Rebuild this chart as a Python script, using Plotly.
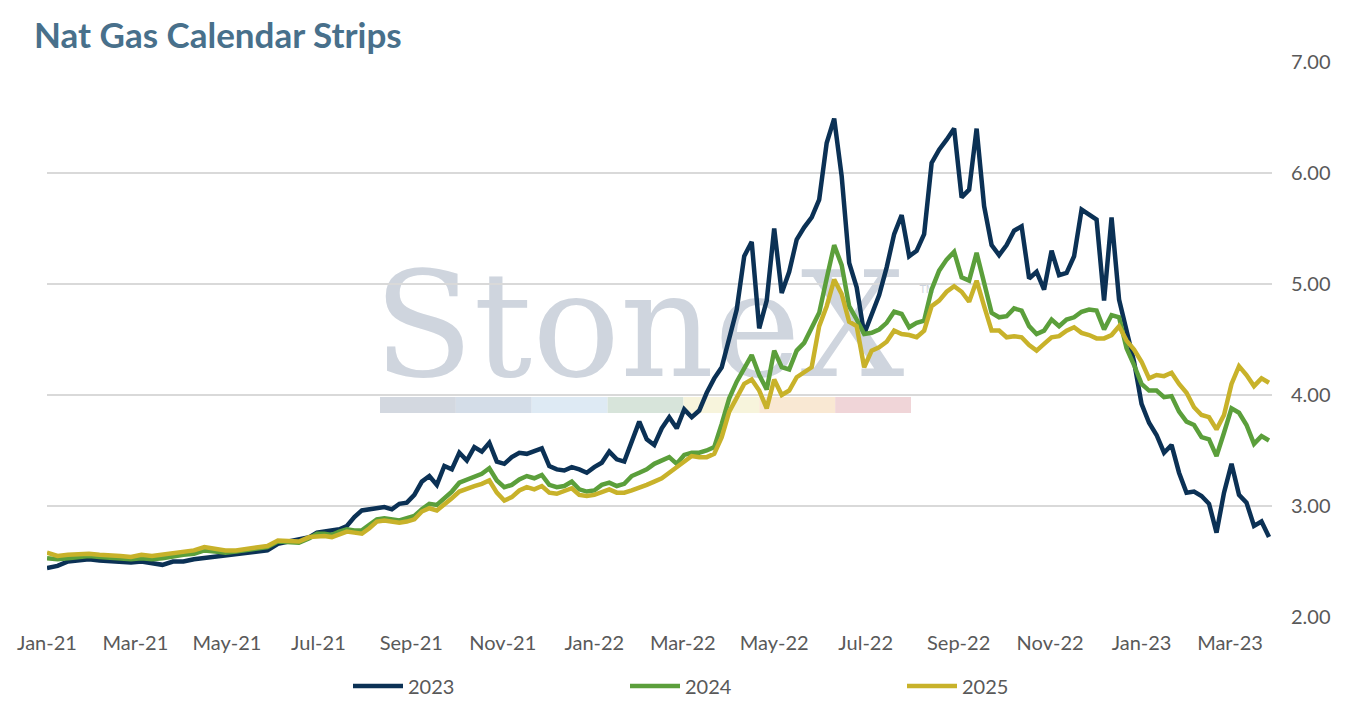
import pandas as pd
import plotly.graph_objects as go

# ---------------- data ----------------
dates_weekly = pd.date_range("2021-01-01", periods=26, freq="7D")
dates_5d = pd.date_range("2021-06-30", periods=128, freq="5D")
dates = list(dates_weekly) + list(dates_5d)

strip_2023 = [
    2.44, 2.46, 2.50, 2.51, 2.52, 2.51, 2.50, 2.49, 2.49, 2.50, 2.49, 2.47, 2.50,
    2.50, 2.52, 2.53, 2.55, 2.56, 2.56, 2.57, 2.58, 2.60, 2.66, 2.68, 2.70, 2.72,
    2.76, 2.77, 2.77, 2.79, 2.82, 2.90, 2.96, 2.97, 2.98, 2.99, 2.97, 3.02, 3.03,
    3.10, 3.22, 3.27, 3.19, 3.36, 3.33, 3.48, 3.41, 3.53, 3.49, 3.57, 3.40, 3.38,
    3.44, 3.48, 3.47, 3.50, 3.52, 3.36, 3.33, 3.32, 3.35, 3.33, 3.30, 3.35, 3.39,
    3.49, 3.42, 3.40, 3.58, 3.76, 3.60, 3.55, 3.70, 3.80, 3.70, 3.87, 3.80, 3.86,
    4.02, 4.15, 4.25, 4.52, 4.77, 5.25, 5.38, 4.60, 4.85, 5.50, 4.92, 5.11, 5.40,
    5.51, 5.60, 5.76, 6.27, 6.49, 5.97, 5.19, 4.97, 4.55, 4.72, 4.90, 5.15, 5.45,
    5.62, 5.25, 5.30, 5.45, 6.09, 6.21, 6.30, 6.40, 5.78, 5.85, 6.40, 5.70, 5.35,
    5.26, 5.35, 5.48, 5.52, 5.05, 5.11, 4.95, 5.30, 5.08, 5.10, 5.25, 5.67, 5.63,
    5.58, 4.85, 5.60, 4.86, 4.60, 4.30, 3.92, 3.75, 3.64, 3.48, 3.55, 3.30, 3.12,
    3.13, 3.09, 3.02, 2.76, 3.12, 3.38, 3.10, 3.03, 2.82, 2.86, 2.72,
]

strip_2024 = [
    2.53, 2.52, 2.53, 2.54, 2.55, 2.54, 2.53, 2.52, 2.52, 2.53, 2.52, 2.53, 2.55,
    2.56, 2.57, 2.60, 2.59, 2.58, 2.59, 2.60, 2.61, 2.63, 2.68, 2.67, 2.67, 2.71,
    2.75, 2.75, 2.74, 2.77, 2.79, 2.78, 2.78, 2.83, 2.88, 2.89, 2.88, 2.87, 2.89,
    2.91, 2.97, 3.02, 3.01, 3.07, 3.13, 3.21, 3.24, 3.26, 3.29, 3.34, 3.23, 3.17,
    3.19, 3.24, 3.27, 3.25, 3.28, 3.19, 3.17, 3.18, 3.22, 3.15, 3.13, 3.14, 3.19,
    3.21, 3.18, 3.20, 3.27, 3.30, 3.33, 3.38, 3.41, 3.44, 3.38, 3.46, 3.48, 3.48,
    3.50, 3.53, 3.74, 3.97, 4.12, 4.25, 4.36, 4.18, 4.05, 4.40, 4.25, 4.23, 4.40,
    4.47, 4.60, 4.74, 5.05, 5.35, 5.17, 4.80, 4.68, 4.55, 4.56, 4.59, 4.65, 4.75,
    4.73, 4.61, 4.65, 4.67, 4.95, 5.12, 5.22, 5.29, 5.06, 5.03, 5.28, 5.00, 4.74,
    4.70, 4.71, 4.78, 4.76, 4.62, 4.55, 4.58, 4.68, 4.62, 4.68, 4.70, 4.75, 4.77,
    4.76, 4.59, 4.72, 4.70, 4.42, 4.27, 4.10, 4.04, 4.04, 3.98, 3.99, 3.85, 3.76,
    3.73, 3.62, 3.60, 3.45, 3.66, 3.88, 3.84, 3.73, 3.56, 3.63, 3.59,
]

strip_2025 = [
    2.58, 2.55, 2.56, 2.57, 2.57, 2.56, 2.56, 2.55, 2.54, 2.56, 2.55, 2.56, 2.57,
    2.59, 2.60, 2.63, 2.61, 2.60, 2.60, 2.61, 2.62, 2.64, 2.69, 2.68, 2.68, 2.72,
    2.73, 2.73, 2.72, 2.75, 2.77, 2.76, 2.75, 2.80, 2.86, 2.87, 2.86, 2.85, 2.86,
    2.88, 2.95, 2.98, 2.96, 3.01, 3.07, 3.13, 3.16, 3.18, 3.20, 3.23, 3.12, 3.05,
    3.08, 3.14, 3.17, 3.15, 3.18, 3.12, 3.11, 3.13, 3.16, 3.10, 3.09, 3.10, 3.13,
    3.15, 3.12, 3.12, 3.14, 3.16, 3.19, 3.22, 3.25, 3.30, 3.35, 3.41, 3.45, 3.44,
    3.44, 3.47, 3.62, 3.85, 3.98, 4.10, 4.14, 4.04, 3.88, 4.14, 4.00, 4.04, 4.16,
    4.20, 4.25, 4.62, 4.80, 5.04, 4.91, 4.66, 4.62, 4.25, 4.40, 4.43, 4.48, 4.58,
    4.55, 4.54, 4.52, 4.58, 4.80, 4.85, 4.93, 4.98, 4.93, 4.84, 5.03, 4.80, 4.58,
    4.58, 4.52, 4.53, 4.52, 4.45, 4.40, 4.46, 4.52, 4.53, 4.58, 4.61, 4.56, 4.54,
    4.51, 4.51, 4.54, 4.62, 4.49, 4.41, 4.30, 4.15, 4.18, 4.17, 4.20, 4.10, 4.02,
    3.89, 3.82, 3.80, 3.69, 3.82, 4.10, 4.26, 4.18, 4.08, 4.15, 4.11,
]

series_names = ["2023", "2024", "2025"]
series_values = [strip_2023, strip_2024, strip_2025]
series_colors = ["#0b3155", "#5b9f3b", "#c8b22a"]

# ---------------- figure ----------------
OFF = 8                      # page body margin
W, H = 1350 - OFF, 707 - OFF
L, R, T, B = 47 - OFF, 78, 62 - OFF, 90
FONT = "Lato"

fig = go.Figure()
for name, vals, col in zip(series_names, series_values, series_colors):
    fig.add_trace(go.Scatter(
        x=dates, y=vals, name=name, mode="lines",
        line=dict(color=col, width=4.5),
        hovertemplate="%{x|%b-%y}: %{y:.2f}<extra>" + name + "</extra>",
    ))

pw, ph = W - L - R, H - T - B
def px(x):  # page pixel -> paper fraction
    return (x - OFF - L) / pw
def py(y):
    return (H - B - (y - OFF)) / ph

shapes = []
bar_colors = ["#d3d8e0", "#d4dde8", "#deeaf4", "#d7e4da", "#f7f4dc", "#f9e8d3", "#f0d5d8"]
x0, x1 = 380, 911
seg = (x1 - x0) / len(bar_colors)
for i, c in enumerate(bar_colors):
    shapes.append(dict(type="rect", xref="paper", yref="paper", layer="below",
                       x0=px(x0 + i * seg), x1=px(x0 + (i + 1) * seg),
                       y0=py(413), y1=py(397), fillcolor=c, line=dict(width=0)))
shapes.append(dict(type="rect", xref="paper", yref="paper", layer="below",
                   x0=px(364), x1=px(914), y0=py(375), y1=py(255),
                   fillcolor="rgba(0,0,0,0)", line=dict(width=0),
                   label=dict(text="StoneX", textposition="middle center",
                              font=dict(family="DejaVu Serif", size=146, color="#cfd5de"))))
shapes.append(dict(type="rect", xref="paper", yref="paper", layer="below",
                   x0=px(916), x1=px(938), y0=py(295), y1=py(281),
                   fillcolor="rgba(0,0,0,0)", line=dict(width=0),
                   label=dict(text="TM", textposition="middle center",
                              font=dict(family="DejaVu Sans", size=10, color="#cfd5de"))))

fig.update_layout(
    width=W, height=H,
    margin=dict(l=L, r=R, t=T, b=B, autoexpand=False),
    paper_bgcolor="white", plot_bgcolor="white",
    font=dict(family=FONT, size=20, color="#595959"),
    title=dict(text="<b>Nat Gas Calendar Strips</b>", xref="container", yref="container",
               x=(34 - OFF) / W, xanchor="left", y=1 - (36 - OFF) / H, yanchor="middle",
               font=dict(family=FONT, size=35, color="#48708b")),
    shapes=shapes,
    showlegend=True,
    legend=dict(orientation="h", xref="paper", yref="paper",
                x=px(348), xanchor="left", y=py(686), yanchor="middle",
                entrywidth=212, entrywidthmode="pixels", itemwidth=50,
                font=dict(family=FONT, size=20, color="#595959"),
                bgcolor="rgba(0,0,0,0)"),
    hovermode="x unified",
)

fig.update_xaxes(
    type="date", range=["2021-01-01", "2023-03-29"],
    tick0="2021-01-01", dtick="M2", tickformat="%b-%y",
    showgrid=False, zeroline=False, showline=False, ticks="",
    ticklabelstandoff=12,
    tickfont=dict(family=FONT, size=20, color="#595959"),
)
fig.update_yaxes(
    side="right", range=[2, 7], dtick=1, tickformat=".2f",
    showgrid=True, gridcolor="#d9d9d9", gridwidth=2,
    zeroline=False, showline=False, ticks="",
    ticklabelstandoff=18,
    tickfont=dict(family=FONT, size=20, color="#595959"),
)

fig.write_html("out.html")
